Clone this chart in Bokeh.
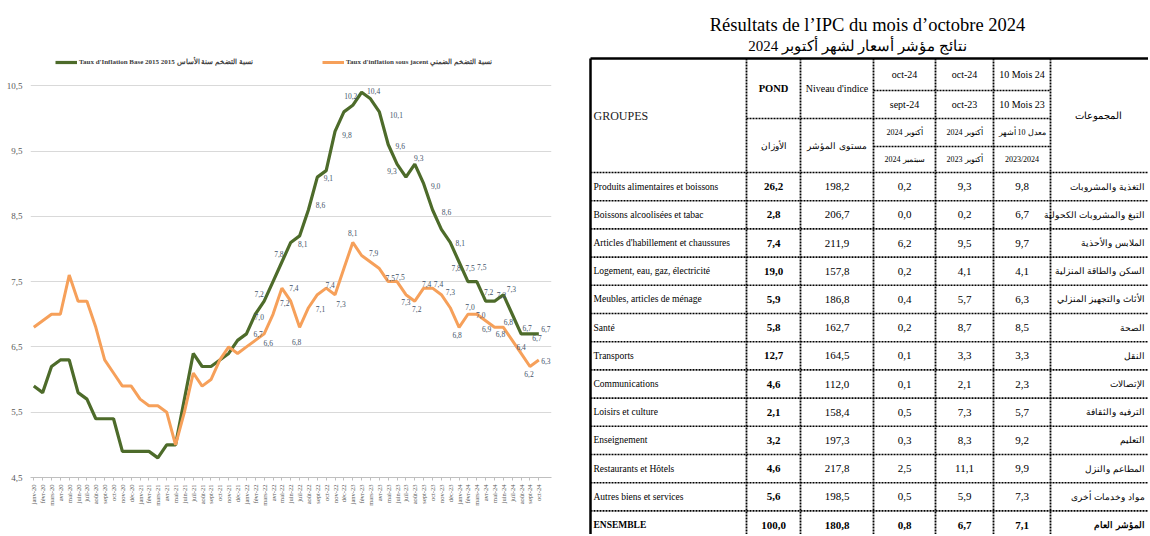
from bokeh.plotting import figure
from bokeh.models import ColumnDataSource, Range1d, FixedTicker, Legend, LegendItem, LabelSet
from bokeh.core.properties import value
from bokeh.embed import file_html
from bokeh.resources import INLINE

# ---------------- data: line chart ----------------
month_names = ["janv", "févr", "mars", "avr", "mai", "juin", "juil", "août", "sept", "oct", "nov", "déc"]
year_suffixes = ["20", "21", "22", "23", "24"]
month_labels = [f"{m}-{y}" for y in year_suffixes for m in month_names][:58]

infl_base = [5.9, 5.8, 6.2, 6.3, 6.3, 5.8, 5.7, 5.4, 5.4, 5.4,
             4.9, 4.9, 4.9, 4.9, 4.8, 5.0, 5.0, 5.7, 6.4, 6.2,
             6.2, 6.3, 6.4, 6.6, 6.7, 7.0, 7.2, 7.5, 7.8, 8.1,
             8.2, 8.6, 9.1, 9.2, 9.8, 10.1, 10.2, 10.4, 10.3, 10.1,
             9.6, 9.3, 9.1, 9.3, 9.0, 8.6, 8.3, 8.1, 7.8, 7.5,
             7.5, 7.2, 7.2, 7.3, 7.0, 6.7, 6.7, 6.7]
infl_core = [6.8, 6.9, 7.0, 7.0, 7.6, 7.2, 7.2, 6.8, 6.3, 6.1,
             5.9, 5.9, 5.7, 5.6, 5.6, 5.5, 5.0, 5.5, 6.1, 5.9,
             6.0, 6.3, 6.5, 6.4, 6.5, 6.6, 6.7, 7.0, 7.4, 7.2,
             6.8, 7.1, 7.3, 7.4, 7.3, 7.7, 8.1, 7.9, 7.8, 7.7,
             7.5, 7.5, 7.3, 7.2, 7.4, 7.4, 7.3, 7.1, 6.8, 7.0,
             7.0, 6.9, 6.8, 6.8, 6.6, 6.4, 6.2, 6.3]
y_ticks = [4.5, 5.5, 6.5, 7.5, 8.5, 9.5, 10.5]

legend_base = "Taux d'Inflation Base 2015 2015 نسبة التضخم سنة الأساس"
legend_core = "Taux d'inflation sous jacent نسبة التضخم الضمني"

# which points carry a value label (style: offsets in px, +dy = below)
base_lbl_idx = [25, 26, 28, 29, 31, 32, 34, 36, 37, 39, 40, 41, 43, 44, 45, 47, 48, 49, 50, 51, 52, 53, 55, 56, 57]
base_lbl_dx = [4, -5, -3, 12, 12, 11, 12, -2, 12, 17, 12, -5, 4, 12, 14, 10, -3, 2, 5, 3, 7, 8, 6, 7, 7]
base_lbl_dy = [3, -7, -8, 2, -5, 1, 4, -9, -1, 3, 2, 7, -6, 2, 2, 1, 6, -14, -15, -9, -6, -6, -6, 4, -5]
core_lbl_idx = [25, 26, 28, 29, 30, 31, 33, 34, 36, 37, 40, 41, 42, 43, 44, 45, 46, 48, 49, 50, 51, 52, 53, 55, 56, 57]
core_lbl_dx = [13, -6, 12, -6, -3, 12, 4, 6, 0, 12, 2, 3, 0, 2, 3, 6, 9, -2, 2, 4, 1, 6, 5, 0, -1, 7]
core_lbl_dy = [3, 0, 0, 2, 15, 1, -3, 9, -9, -2, -4, -5, 7, 8, -4, -4, -3, 8, -7, 1, 8, 7, -5, -6, 8, 1]

# ---------------- data: table ----------------
title_fr = "Résultats de l’IPC du mois d’octobre 2024"
title_ar = "نتائج مؤشر أسعار لشهر أكتوبر 2024"
groups_fr = ["Produits alimentaires et boissons", "Boissons alcoolisées et tabac",
             "Articles d'habillement et chaussures", "Logement, eau, gaz, électricité",
             "Meubles, articles de ménage", "Santé", "Transports", "Communications",
             "Loisirs et culture", "Enseignement", "Restaurants et Hôtels",
             "Autres biens et services", "ENSEMBLE"]
groups_ar = ["التغذية والمشروبات", "التبغ والمشروبات الكحولية", "الملابس والأحذية",
             "السكن والطاقة المنزلية", "الأثاث والتجهيز المنزلي", "الصحة", "النقل",
             "الإتصالات", "الترفيه والثقافة", "التعليم", "المطاعم والنزل",
             "مواد وخدمات أخرى", "المؤشر العام"]
pond = [26.2, 2.8, 7.4, 19.0, 5.9, 5.8, 12.7, 4.6, 2.1, 3.2, 4.6, 5.6, 100.0]
niveau = [198.2, 206.7, 211.9, 157.8, 186.8, 162.7, 164.5, 112.0, 158.4, 197.3, 217.8, 198.5, 180.8]
var_month = [0.2, 0.0, 6.2, 0.2, 0.4, 0.2, 0.1, 0.1, 0.5, 0.3, 2.5, 0.5, 0.8]
var_year = [9.3, 0.2, 9.5, 4.1, 5.7, 8.7, 3.3, 2.1, 7.3, 8.3, 11.1, 5.9, 6.7]
var_10m = [9.8, 6.7, 9.7, 4.1, 6.3, 8.5, 3.3, 2.3, 5.7, 9.2, 9.9, 7.3, 7.1]
head_groupes = "GROUPES"
head_groupes_ar = "المجموعات"
head_pond = ["POND", "الأوزان"]
head_niveau = ["Niveau d'indice", "مستوى المؤشر"]
head_c4 = ["oct-24", "sept-24", "أكتوبر 2024", "سبتمبر 2024"]
head_c5 = ["oct-24", "oct-23", "أكتوبر 2024", "أكتوبر 2023"]
head_c6 = ["10 Mois 24", "10 Mois 23", "معدل 10 أشهر", "2023/2024"]


def fmt(v):
    return f"{v:.1f}".replace(".", ",")


GREEN = "#4D6B2A"
ORANGE = "#F6A05A"
LBL = "#44546A"
NARROW = "Liberation Sans Narrow"
SERIF = "Liberation Serif"
H = 534
W_CHART = 580
W_TABLE = 568

# ---------------- line chart ----------------
p = figure(width=W_CHART, height=H, x_range=Range1d(-0.37, 58.43), y_range=Range1d(4.5, 11.07),
           output_backend="svg", toolbar_location=None, name="chart",
           min_border_left=30, min_border_right=29, min_border_top=48, min_border_bottom=57)
p.outline_line_color = None
p.xgrid.visible = False
p.ygrid.grid_line_color = "#D9D9D9"
p.ygrid.grid_line_width = 1

xs = list(range(len(infl_base)))
r_base = p.line(xs, infl_base, line_color=GREEN, line_width=3.2)
r_core = p.line(xs, infl_core, line_color=ORANGE, line_width=3.0)

p.yaxis.ticker = FixedTicker(ticks=y_ticks)
p.yaxis.major_label_overrides = {t: fmt(t) for t in y_ticks}
p.yaxis.axis_line_color = None
p.yaxis.major_tick_line_color = None
p.yaxis.major_tick_out = 0
p.yaxis.major_tick_in = 0
p.yaxis.minor_tick_line_color = None
p.yaxis.major_label_standoff = 8
p.yaxis.major_label_text_font = NARROW
p.yaxis.major_label_text_font_size = "9px"
p.yaxis.major_label_text_color = "#595959"

p.xaxis.ticker = FixedTicker(ticks=xs)
p.xaxis.major_label_overrides = {i: month_labels[i] for i in xs}
p.xaxis.major_label_orientation = 1.5708
p.xaxis.axis_line_color = "#BFBFBF"
p.xaxis.major_tick_line_color = "#BFBFBF"
p.xaxis.major_tick_in = 0
p.xaxis.major_tick_out = 3
p.xaxis.minor_tick_line_color = None
p.xaxis.major_label_standoff = 4
p.xaxis.major_label_text_font = NARROW
p.xaxis.major_label_text_font_size = "6.5px"
p.xaxis.major_label_text_color = "#595959"

src_bl = ColumnDataSource(dict(x=base_lbl_idx, y=[infl_base[i] for i in base_lbl_idx],
                               t=[fmt(infl_base[i]) for i in base_lbl_idx],
                               dx=base_lbl_dx, dy=[-d for d in base_lbl_dy]))
src_cl = ColumnDataSource(dict(x=core_lbl_idx, y=[infl_core[i] for i in core_lbl_idx],
                               t=[fmt(infl_core[i]) for i in core_lbl_idx],
                               dx=core_lbl_dx, dy=[-d for d in core_lbl_dy]))
for s in (src_bl, src_cl):
    p.add_layout(LabelSet(x="x", y="y", text="t", x_offset="dx", y_offset="dy", source=s,
                          text_font=value(NARROW), text_font_size="7.5px", text_color=LBL,
                          text_align="center", text_baseline="middle"))

lg1 = Legend(items=[LegendItem(label=legend_base, renderers=[r_base])], location=(25, 410))
lg2 = Legend(items=[LegendItem(label=legend_core, renderers=[r_core])], location=(292, 410))
for lg in (lg1, lg2):
    lg.padding = 0
    lg.margin = 0
    lg.spacing = 0
    lg.border_line_color = None
    lg.background_fill_alpha = 0
    lg.glyph_width = 22
    lg.glyph_height = 10
    lg.label_height = 10
    lg.label_standoff = 2
    lg.label_text_font = NARROW
    lg.label_text_font_size = "7px"
    lg.label_text_font_style = "bold"
    lg.label_text_color = "#404040"
    lg.label_text_baseline = "middle"
    p.add_layout(lg, "center")

# ---------------- table ----------------
t = figure(width=W_TABLE, height=H, x_range=Range1d(W_CHART, W_CHART + W_TABLE), y_range=Range1d(H, 0),
           output_backend="svg", toolbar_location=None, min_border=0, name="table",
           x_axis_location=None, y_axis_location=None)
t.grid.visible = False
t.outline_line_color = None

col_x = [590, 746, 800, 873, 935, 993, 1050, 1170]
head_y = [58, 90, 118, 146, 172]
n_rows = len(groups_fr)
row_h = 28.2
bottom = head_y[-1] + row_h * n_rows + 10
col_c = [(col_x[i] + col_x[i + 1]) / 2 for i in range(len(col_x) - 1)]
row_c = [head_y[-1] + row_h * (k + 0.5) for k in range(n_rows)]

# solid outer border
t.segment(x0=[col_x[0], col_x[0]], y0=[head_y[0], head_y[0]],
          x1=[col_x[-1], col_x[0]], y1=[head_y[0], bottom], line_color="black", line_width=2.5)
# dotted inner verticals
t.segment(x0=col_x[1:7], y0=[head_y[0]] * 6, x1=col_x[1:7], y1=[bottom] * 6,
          line_color="black", line_width=1.8, line_dash="2 1")
# header horizontal lines
t.segment(x0=[col_x[3], col_x[1], col_x[3]], y0=[head_y[1], head_y[2], head_y[3]],
          x1=[col_x[6], col_x[6], col_x[6]], y1=[head_y[1], head_y[2], head_y[3]],
          line_color="black", line_width=1.6, line_dash="2 1")
row_lines = [head_y[-1] + row_h * k for k in range(n_rows + 1)]
t.segment(x0=[col_x[0]] * len(row_lines), y0=row_lines, x1=[col_x[-1]] * len(row_lines), y1=row_lines,
          line_color="black", line_width=1.6, line_dash="2 1")

# titles
t.text(x=[867], y=[24], text=[title_fr], text_font=value(SERIF), text_font_size="18.5px",
       text_align="center", text_baseline="middle", text_color="black")
t.text(x=[857], y=[45], text=[title_ar], text_font=value(SERIF), text_font_size="15px",
       text_align="center", text_baseline="middle", text_color="black")

# header cells
hdr_mid = [(head_y[0] + head_y[1]) / 2, (head_y[1] + head_y[2]) / 2,
           (head_y[2] + head_y[3]) / 2, (head_y[3] + head_y[4]) / 2]
t.text(x=[col_x[0] + 3], y=[(head_y[0] + head_y[-1]) / 2], text=[head_groupes], text_font=value(SERIF),
       text_font_size="12px", text_align="left", text_baseline="middle", text_color="#222222")
t.text(x=[col_c[6] - 12], y=[(head_y[0] + head_y[-1]) / 2], text=[head_groupes_ar], text_font=value(SERIF),
       text_font_size="9.5px", text_align="center", text_baseline="middle", text_color="black")
t.text(x=[col_c[1]], y=[(head_y[0] + head_y[2]) / 2], text=[head_pond[0]],
       text_font=value(SERIF), text_font_size="10.5px", text_font_style="bold",
       text_align="center", text_baseline="middle", text_color="black")
t.text(x=[col_c[2]], y=[(head_y[0] + head_y[2]) / 2], text=[head_niveau[0]],
       text_font=value(SERIF), text_font_size="10px",
       text_align="center", text_baseline="middle", text_color="black")
t.text(x=[col_c[1], col_c[2]], y=[(head_y[2] + head_y[4]) / 2] * 2, text=[head_pond[1], head_niveau[1]],
       text_font=value(SERIF), text_font_size="8.5px",
       text_align="center", text_baseline="middle", text_color="black")
for ci, labels in zip([3, 4, 5], [head_c4, head_c5, head_c6]):
    t.text(x=[col_c[ci]] * 2, y=hdr_mid[:2], text=labels[:2], text_font=value(SERIF), text_font_size="10px",
           text_align="center", text_baseline="middle", text_color="black")
    t.text(x=[col_c[ci]] * 2, y=hdr_mid[2:], text=labels[2:], text_font=value(SERIF), text_font_size="8px",
           text_align="center", text_baseline="middle", text_color="black")

# body cells
body = ColumnDataSource(dict(
    y=row_c, fr=groups_fr, ar=groups_ar,
    pond=[fmt(v) for v in pond], niv=[fmt(v) for v in niveau],
    m=[fmt(v) for v in var_month], a=[fmt(v) for v in var_year], d=[fmt(v) for v in var_10m],
    st=["bold" if g == "ENSEMBLE" else "normal" for g in groups_fr]))
t.text(x=col_x[0] + 3, y="y", text="fr", source=body, text_font=value(SERIF), text_font_size="9.5px",
       text_font_style="st", text_align="left", text_baseline="middle", text_color="black")
t.text(x=col_c[1], y="y", text="pond", source=body, text_font=value(SERIF), text_font_size="11px",
       text_font_style="bold", text_align="center", text_baseline="middle", text_color="black")
for col, key in [(2, "niv"), (3, "m"), (4, "a"), (5, "d")]:
    t.text(x=col_c[col], y="y", text=key, source=body, text_font=value(SERIF), text_font_size="11px",
           text_font_style="st", text_align="center", text_baseline="middle", text_color="black")
t.text(x=1144, y="y", text="ar", source=body, text_font=value(SERIF), text_font_size="8.5px",
       text_font_style="st", text_align="right", text_baseline="middle", text_color="black")

# two independent roots placed side by side (no frame alignment between them)
side_by_side = """
{% block contents %}
{% from macros import embed %}
<div style="display:flex;flex-direction:row;align-items:flex-start;">
{% for doc in docs %}{% for root in doc.roots %}{{ embed(root) }}{% endfor %}{% endfor %}
</div>
{% endblock %}
"""
open("out.html", "w").write(file_html([p, t], INLINE, template=side_by_side))
